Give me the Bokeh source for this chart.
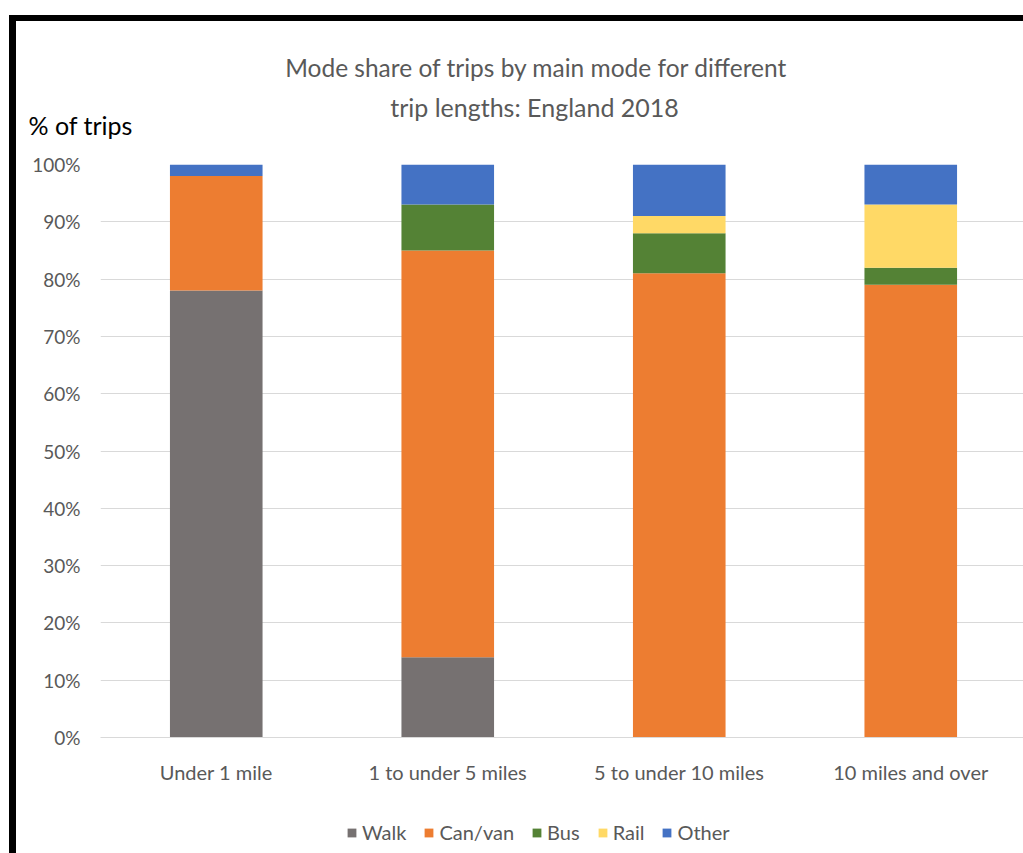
from bokeh.plotting import figure
from bokeh.models import (ColumnDataSource, Range1d, FixedTicker, PrintfTickFormatter,
                          Label, Legend, LegendItem)
from bokeh.embed import file_html
from bokeh.resources import INLINE

categories = ["Under 1 mile", "1 to under 5 miles", "5 to under 10 miles", "10 miles and over"]
modes = ["Walk", "Can/van", "Bus", "Rail", "Other"]
walk = [78, 14, 0, 0]
car = [20, 71, 81, 79]
bus = [0, 8, 7, 3]
rail = [0, 0, 3, 11]
other = [2, 7, 9, 7]
colors = ["#767171", "#ED7D31", "#548235", "#FFD966", "#4472C4"]
y_ticks = [0, 10, 20, 30, 40, 50, 60, 70, 80, 90, 100]
title_lines = ["Mode share of trips by main mode for different", "trip lengths: England 2018"]
y_caption = "% of trips"

FONT = "Lato"
GREY = "#595959"
W = 1014   # outer width incl. the 7px black left border
SIDE = {"margin-left": "9px", "border-left": "7px solid black", "background-color": "white"}


def blank_figure(height, styles, y_range=(0, 1)):
    f = figure(width=W, height=height, output_backend="svg", toolbar_location=None,
               title_location=None, x_axis_location=None, y_axis_location=None,
               x_range=Range1d(0, 1), y_range=Range1d(*y_range),
               min_border=0, min_border_left=0, min_border_right=0,
               min_border_top=0, min_border_bottom=0, styles=styles)
    f.outline_line_color = None
    f.grid.visible = False
    return f


xs = list(range(len(categories)))
source = ColumnDataSource(dict(x=xs, Walk=walk, **{"Can/van": car}, Bus=bus, Rail=rail, Other=other))

# ---- header with title and y caption ----
head = blank_figure(134, dict(SIDE, **{"margin-top": "15px", "border-top": "6px solid black"}))
head.add_layout(Label(x=520, y=88, x_units="screen", y_units="screen", text=title_lines[0],
                      text_align="center", text_baseline="middle", text_font=FONT,
                      text_font_size="24.5px", text_color=GREY))
head.add_layout(Label(x=518, y=49, x_units="screen", y_units="screen", text=title_lines[1],
                      text_align="center", text_baseline="middle", text_font=FONT,
                      text_font_size="25px", text_color=GREY))
head.add_layout(Label(x=12, y=31, x_units="screen", y_units="screen", text=y_caption,
                      text_align="left", text_baseline="middle", text_font=FONT,
                      text_font_size="25px", text_color="black"))

# ---- main chart ----
p = figure(width=W, height=666, output_backend="svg", toolbar_location=None,
           title_location=None,
           x_range=Range1d(-0.5, 3.487), y_range=Range1d(0, 100),
           min_border_left=84, min_border_right=7, min_border_top=15, min_border_bottom=78,
           styles=SIDE)
p.outline_line_color = None

p.vbar_stack(modes, x="x", width=0.40, color=colors, source=source, line_width=0)

p.yaxis.ticker = FixedTicker(ticks=y_ticks)
p.yaxis.formatter = PrintfTickFormatter(format="%d%%")
p.yaxis.axis_line_color = None
p.yaxis.major_tick_line_color = None
p.yaxis.minor_tick_line_color = None
p.yaxis.major_label_standoff = 14
p.yaxis.major_label_text_font = FONT
p.yaxis.major_label_text_font_size = "19px"
p.yaxis.major_label_text_color = GREY

p.xaxis.ticker = FixedTicker(ticks=xs)
p.xaxis.major_label_overrides = {i: c for i, c in zip(xs, categories)}
p.xaxis.axis_line_color = "#D9D9D9"
p.xaxis.axis_line_width = 1
p.xaxis.major_tick_line_color = None
p.xaxis.minor_tick_line_color = None
p.xaxis.major_label_standoff = 16
p.xaxis.major_label_text_font = FONT
p.xaxis.major_label_text_font_size = "20px"
p.xaxis.major_label_text_color = GREY

p.xgrid.grid_line_color = None
p.ygrid.grid_line_color = "#D9D9D9"
p.ygrid.grid_line_width = 1

# ---- legend strip (its bars lie outside the visible y range) ----
leg = blank_figure(38, SIDE, y_range=(1000, 1001))
lrs = leg.vbar_stack(modes, x="x", width=0.4, color=colors, source=source, line_width=0)
lg = Legend(items=[LegendItem(label=m, renderers=[r]) for m, r in zip(modes, lrs)],
            orientation="horizontal", location=(330, 9))
lg.glyph_width = 11
lg.glyph_height = 11
lg.label_standoff = 5
lg.spacing = 17
lg.padding = 0
lg.margin = 0
lg.label_text_font = FONT
lg.label_text_font_size = "20px"
lg.label_text_color = GREY
lg.background_fill_alpha = 0
lg.border_line_alpha = 0
leg.add_layout(lg, "center")

open("out.html", "w").write(file_html([head, p, leg], INLINE))
